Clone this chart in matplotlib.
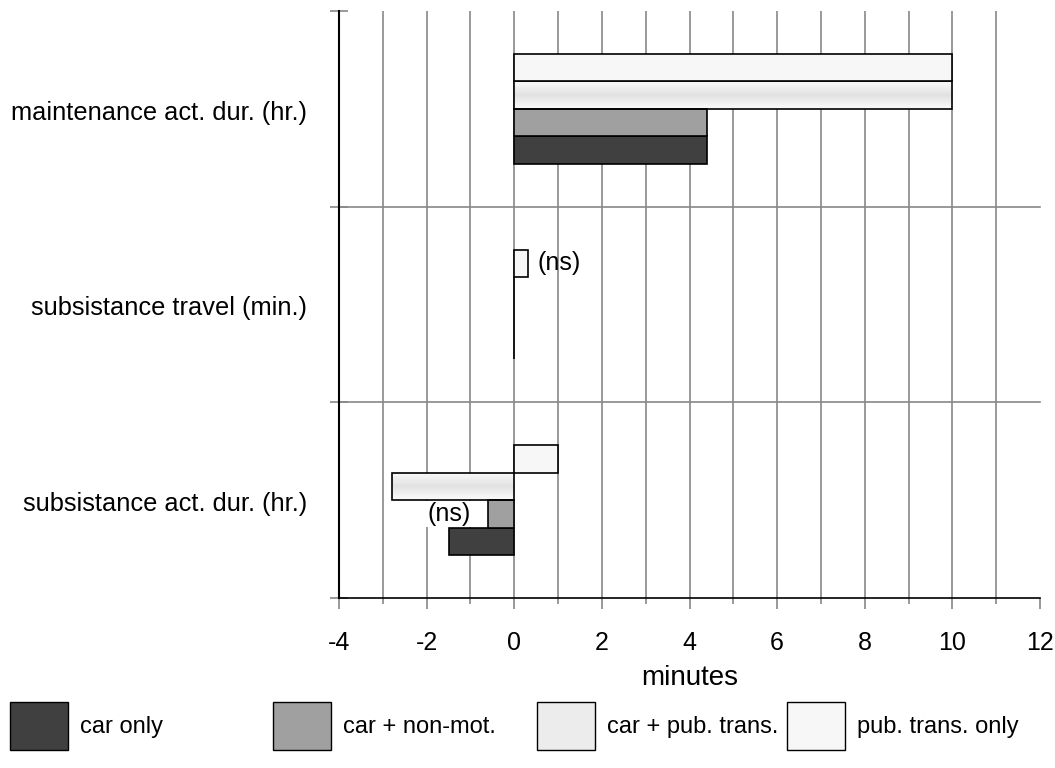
import numpy as np
import matplotlib
matplotlib.use("Agg")
import matplotlib.pyplot as plt
import matplotlib.transforms as mtransforms
from matplotlib.patches import Patch
from matplotlib.colors import LinearSegmentedColormap

plt.rcParams['font.family'] = ['Liberation Sans', 'DejaVu Sans']
plt.rcParams['font.size'] = 17

# Data (bottom to top)
categories = ['subsistance act. dur. (hr.)', 'subsistance travel (min.)', 'maintenance act. dur. (hr.)']
car_only = [-1.5, 0.0, 4.4]
car_non_mot = [-0.6, 0.0, 4.4]
car_pub = [-2.8, 0.0, 10.0]
pub_only = [1.0, 0.32, 10.0]
series_names = ['car only', 'car + non-mot.', 'car + pub. trans.', 'pub. trans. only']
x_ticks = [-4, -2, 0, 2, 4, 6, 8, 10, 12]

colors = ['#404040', '#a0a0a0', '#ececec', '#f7f7f7']
grid_col = '#888888'

fig = plt.figure(figsize=(10.55, 7.68), dpi=100)
ax = fig.add_axes([339 / 1055, 1 - 598 / 768, (1040 - 339) / 1055, (598 - 11) / 768])

y = np.arange(len(categories))
h = 0.14
offsets = np.array([-1.5, -0.5, 0.5, 1.5]) * h
all_series = [car_only, car_non_mot, car_pub, pub_only]

bar_groups = []
for i, vals in enumerate(all_series):
    bars = ax.barh(y + offsets[i], vals, height=h, color=colors[i],
                   edgecolor='black', linewidth=1.2, zorder=3)
    bar_groups.append(bars)

# gradient fill for the "car + pub. trans." bars
grad_cmap = LinearSegmentedColormap.from_list('g', ['#e2e2e2', '#fbfbfb'])
grad = np.abs(np.linspace(-1, 1, 64))[:, None]
for bar in bar_groups[2]:
    bb = bar.get_bbox()
    if abs(bb.x1 - bb.x0) < 1e-9:
        continue
    bar.set_facecolor('none')
    im = ax.imshow(grad, extent=[bb.x0, bb.x1, bb.y0, bb.y1], aspect='auto',
                   cmap=grad_cmap, vmin=0, vmax=1, zorder=2.9, interpolation='bilinear')
    im.set_clip_path(bar)

ax.set_xlim(-4, 12)
ax.set_ylim(-0.5, len(categories) - 0.5)

# grid lines
for gx in range(-3, 12):
    ax.axvline(gx, color=grid_col, lw=1.2, zorder=1)
for gy in np.arange(len(categories) - 1) + 0.5:
    ax.axhline(gy, color=grid_col, lw=1.2, zorder=1, clip_on=False)

# (ns) labels
ax.text(pub_only[1] + 0.22, y[1] + offsets[3], '(ns)', ha='left', va='center', zorder=4, fontsize=18)
ax.text(-1.0, y[0] + offsets[1], '(ns)', ha='right', va='center', zorder=4, fontsize=18,
        bbox=dict(facecolor='white', edgecolor='none', pad=0.6))

# axes styling
ax.set_xticks(x_ticks)
ax.set_xticklabels([str(t) for t in x_ticks], fontsize=18)
ax.set_xticks(range(-3, 12, 2), minor=True)
ax.tick_params(axis='x', which='major', length=8, width=1.2, color=grid_col, direction='out', pad=16)
ax.tick_params(axis='x', which='minor', length=4, width=1.2, color=grid_col, direction='out')

ax.set_yticks(np.arange(len(categories) + 1) - 0.5)
ax.set_yticklabels([])
ax.set_yticks(y, minor=True)
ax.set_yticklabels(categories, minor=True, fontsize=18.3, va='center')
ax.tick_params(axis='y', which='major', length=13, width=1.2, color=grid_col, direction='inout')
ax.tick_params(axis='y', which='minor', length=0, pad=23)
shift = mtransforms.ScaledTranslation(0, -4 / 100, fig.dpi_scale_trans)
for lbl in ax.get_yticklabels(minor=True):
    lbl.set_transform(lbl.get_transform() + shift)

for s in ['top', 'right']:
    ax.spines[s].set_visible(False)
ax.spines['left'].set_linewidth(1.5)
ax.spines['bottom'].set_linewidth(1.2)
ax.spines['left'].set_zorder(5)

ax.set_xlabel('minutes', labelpad=7, fontsize=20)

# legend: four fixed slots across the bottom
slot_x = [10, 273, 537, 787]
for i, name in enumerate(series_names):
    handle = Patch(facecolor=colors[i], edgecolor='black', linewidth=1.0)
    fig.legend([handle], [name], loc='center left',
               bbox_to_anchor=(slot_x[i] / 1055, 1 - 726 / 768),
               frameon=False, handlelength=2.45, handleheight=2.75,
               handletextpad=0.5, borderpad=0, borderaxespad=0)

fig.savefig('out.png', dpi=100)
